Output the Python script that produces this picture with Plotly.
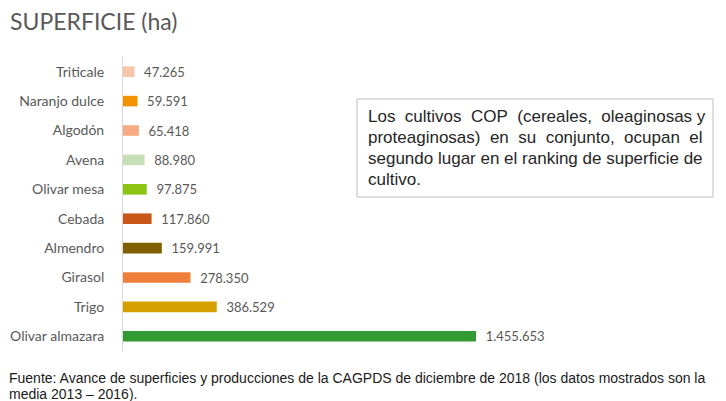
import plotly.graph_objects as go

# Datos (superficie media 2013-2016, ha)
cultivos = ['Olivar almazara', 'Trigo', 'Girasol', 'Almendro', 'Cebada',
            'Olivar mesa', 'Avena', 'Algodón', 'Naranjo dulce', 'Triticale']
superficie = [1455653, 386529, 278350, 159991, 117860,
              97875, 88980, 65418, 59591, 47265]
colores = ['#339933', '#D6A000', '#F07F3C', '#7F5F00', '#C8581A',
           '#8CC414', '#C6DFB6', '#F6AB82', '#F49300', '#F8C6A6']

nota = ['Los&nbsp; cultivos&nbsp; COP&nbsp; (cereales,&nbsp; oleaginosas y',
        'proteaginosas)&nbsp; en&nbsp; su&nbsp; conjunto,&nbsp; ocupan&nbsp; el',
        'segundo lugar en el ranking de superficie de',
        'cultivo.']
fuente = ['Fuente: Avance de superficies y producciones de la CAGPDS de diciembre de 2018 '
          '(los datos mostrados son la',
          'media 2013 – 2016).']

# la página añade 8 px de margen al div de la figura
OFF = 8
W, H = 726, 401
L, R, T, B = 123 - OFF, 26 + OFF, 57 - OFF, 50 + OFF
PW, PH = W - L - R, H - T - B


def px_x(x):
    return (x - OFF - L) / PW


def px_y(y):
    return (H - B - (y - OFF)) / PH


fig = go.Figure()
fig.add_trace(go.Bar(
    x=superficie,
    y=cultivos,
    orientation='h',
    marker=dict(color=colores, line=dict(width=0)),
    width=0.36,
    texttemplate='  %{x:,.0f}',
    textposition='outside',
    constraintext='none',
    textfont=dict(family='Lato, sans-serif', size=13, color='#595959'),
    cliponaxis=False,
    hoverinfo='skip'
))

# eje x: 0 en px 123, 1.455.653 en px ~476
fig.update_layout(
    width=W, height=H,
    margin=dict(l=L, r=R, t=T, b=B, autoexpand=False),
    paper_bgcolor='white',
    plot_bgcolor='white',
    separators=',.',
    showlegend=False,
    xaxis=dict(range=[0, 1455653 * PW / 353], visible=False, automargin=False),
    yaxis=dict(
        showline=True, linecolor='#D9D9D9', linewidth=1, automargin=False,
        ticks='', showgrid=False, ticklabelstandoff=15,
        tickfont=dict(family='Lato, sans-serif', size=14, color='#595959'),
        categoryorder='array', categoryarray=cultivos
    ),
    title=dict(text='SUPERFICIE (ha)', x=(10 - OFF) / W, xanchor='left',
               y=1 - (22 - OFF) / H, yanchor='middle',
               font=dict(family='Lato, sans-serif', size=23, color='#595959')),
)

fig.add_shape(type='rect', xref='paper', yref='paper',
              x0=px_x(357), x1=px_x(713), y0=px_y(197), y1=px_y(99),
              line=dict(color='#BFBFBF', width=1), fillcolor='white')
for i, linea in enumerate(nota):
    fig.add_annotation(xref='paper', yref='paper',
                       x=px_x(366), y=px_y(116 + 21.3 * i),
                       xanchor='left', yanchor='middle', align='left',
                       text=linea, showarrow=False,
                       font=dict(family='Liberation Sans, Arial, sans-serif', size=17, color='#262626'))
for i, linea in enumerate(fuente):
    fig.add_annotation(xref='paper', yref='paper',
                       x=px_x(7), y=px_y(378 + 16 * i),
                       xanchor='left', yanchor='middle', align='left',
                       text=linea, showarrow=False,
                       font=dict(family='Liberation Sans, Arial, sans-serif', size=14, color='#1A1A1A'))

fig.write_html('out.html')
